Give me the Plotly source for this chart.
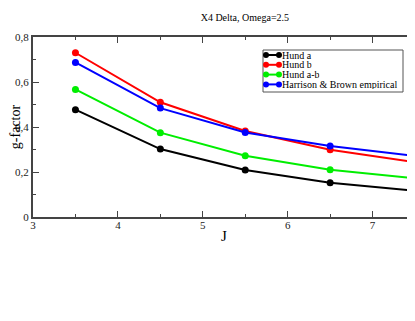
import plotly.graph_objects as go

# data
J = [3.5, 4.5, 5.5, 6.5, 7.5]
hund_a = [0.477, 0.302, 0.209, 0.152, 0.117]
hund_b = [0.730, 0.510, 0.382, 0.299, 0.244]
hund_ab = [0.567, 0.375, 0.272, 0.210, 0.172]
harrison_brown = [0.687, 0.484, 0.376, 0.316, 0.271]

names = ["Hund a", "Hund b", "Hund a-b", "Harrison & Brown empirical"]
colors = ["#000000", "#ff0000", "#00ee00", "#0000ff"]
values = [hund_a, hund_b, hund_ab, harrison_brown]

SERIF = "Liberation Serif, Times New Roman, serif"

fig = go.Figure()
for name, vals, col in zip(names, values, colors):
    fig.add_trace(go.Scatter(
        x=J, y=vals, name=name, mode="lines+markers",
        line=dict(color=col, width=2),
        marker=dict(color=col, size=7),
        showlegend=False,
    ))

# grace-style legend box, in paper coords (plot area is 382 x 180 px on the page)
W, H = 382.0, 180.0
def px(x):
    return (x - 33) / W
def py(y):
    return (217 - y) / H

fig.add_shape(type="rect", xref="paper", yref="paper",
              x0=px(263), x1=px(403), y0=py(50), y1=py(92),
              line=dict(color="#555555", width=1), fillcolor="white", layer="above")
for i, (name, col) in enumerate(zip(names, colors)):
    yy = py(55 + i * 9.8)
    fig.add_shape(type="line", xref="paper", yref="paper",
                  x0=px(266), x1=px(279), y0=yy, y1=yy,
                  line=dict(color=col, width=2), layer="above")
    for xx in (266, 279):
        fig.add_shape(type="circle", xref="paper", yref="paper",
                      xsizemode="pixel", ysizemode="pixel",
                      xanchor=px(xx), yanchor=yy, x0=-3, x1=3, y0=-3, y1=3,
                      line=dict(color=col, width=0), fillcolor=col, layer="above")
    fig.add_annotation(x=px(281), y=yy, xref="paper", yref="paper",
                       text=name, showarrow=False, xanchor="left", yanchor="middle",
                       borderpad=0, height=9,
                       font=dict(family=SERIF, size=10, color="#000000"))

axis_style = dict(
    showline=True, linecolor="#444444", linewidth=2, mirror="ticks",
    ticks="inside", ticklen=6, tickcolor="#444444", tickwidth=1,
    showgrid=False, zeroline=False, automargin=False,
    tickfont=dict(family=SERIF, size=11, color="#222222"),
)

fig.update_layout(
    width=407, height=305,
    margin=dict(l=25, r=0, t=29, b=96),
    paper_bgcolor="white", plot_bgcolor="white",
    separators=",.",
    font=dict(family=SERIF, color="#000000"),
    title=dict(text="X4 Delta, Omega=2.5", x=0.582, y=1 - 9.7 / 305,
               xanchor="center", yanchor="middle",
               font=dict(size=10, family=SERIF)),
    showlegend=False,
)
fig.update_xaxes(range=[3, 7.5], dtick=1, tick0=3,
                 minor=dict(dtick=0.5, ticklen=3, ticks="inside", tickcolor="#444444"),
                 title=dict(text="J", font=dict(size=15), standoff=0),
                 ticklabelstandoff=-3,
                 **axis_style)
fig.update_yaxes(range=[0, 0.8], dtick=0.2,
                 minor=dict(dtick=0.1, ticklen=3, ticks="inside", tickcolor="#444444"),
                 title=dict(text="g-factor", font=dict(size=14), standoff=12),
                 **axis_style)

fig.write_html("out.html")
